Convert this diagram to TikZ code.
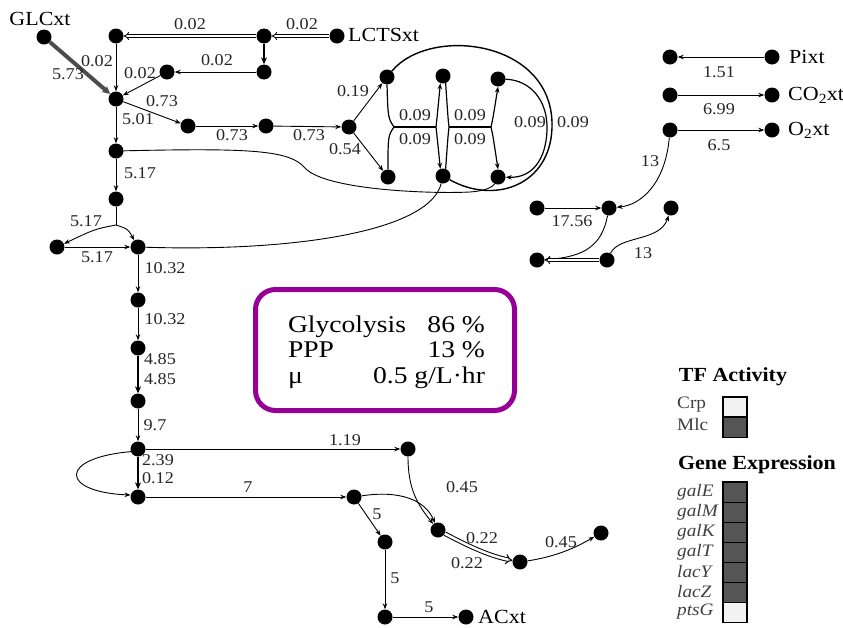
\documentclass[tikz,border=0pt]{standalone}
\usepackage{fontspec}
\setmainfont{Liberation Serif}[FakeStretch=1.1]
\newfontfamily\boxfont{Liberation Serif}[FakeStretch=1.15]
\usetikzlibrary{arrows.meta}
\definecolor{boxpurple}{RGB}{150,0,150}
\definecolor{celldark}{RGB}{85,85,85}
\definecolor{celllight}{RGB}{242,242,242}
\begin{document}
\begin{tikzpicture}[x=1pt,y=-1pt,
  dot/.style={circle,fill=black,inner sep=0pt,minimum size=15pt},
  flow/.style={line width=0.9pt,-{Stealth[length=6pt,width=4.5pt]}},
  plainline/.style={line width=0.9pt},
  heavy/.style={line width=2.6pt,-{Stealth[length=7pt,width=6pt]}},
  glcflow/.style={line width=4pt,draw=black!70,-{Stealth[length=8pt,width=8pt]}},
  dbl/.style={double,double distance=2pt,line width=0.8pt,-{Implies}},
  num/.style={font=\fontsize{16.5}{16.5}\selectfont,inner sep=1pt,text=black!85},
  mname/.style={font=\fontsize{20}{20}\selectfont,inner sep=1pt},
  leg/.style={font=\fontsize{17.5}{17.5}\selectfont,inner sep=0pt,text=black!75,anchor=west},
  gene/.style={font=\itshape\fontsize{17.5}{17.5}\selectfont,inner sep=0pt,text=black!75,anchor=west},
  cell/.style={draw=black,line width=1.3pt,minimum width=24pt,minimum height=20.1pt,inner sep=0pt},
  head/.style={font=\bfseries\fontsize{20}{20}\selectfont,inner sep=0pt}
]
\useasboundingbox (0,0) rectangle (843,627);

% ---------- nodes ----------
\node[dot] (GLC) at (44,37) {};
\node[dot] (A1) at (116,36) {};
\node[dot] (A2) at (264,36) {};
\node[dot] (LCTS) at (337,36) {};
\node[dot] (A3) at (264,72) {};
\node[dot] (B1) at (167,72) {};
\node[dot] (M) at (116,99) {};
\node[dot] (N1) at (188,126) {};
\node[dot] (N2) at (266,126) {};
\node[dot] (N3) at (349,127) {};
\node[dot] (P1) at (387,77) {};
\node[dot] (P2) at (443,76) {};
\node[dot] (P3) at (498,79) {};
\node[dot] (P4) at (388,177) {};
\node[dot] (P5) at (443,176) {};
\node[dot] (P6) at (498,177) {};
\node[dot] (G1) at (116,151) {};
\node[dot] (G2) at (116,199) {};
\node[dot] (G3) at (138,247) {};
\node[dot] (G4) at (57,247) {};
\node[dot] (G5) at (138,300) {};
\node[dot] (G6) at (138,348) {};
\node[dot] (G7) at (138,401) {};
\node[dot] (G8) at (138,449) {};
\node[dot] (G9) at (138,497) {};
\node[dot] (Q1) at (408,449) {};
\node[dot] (Q2) at (354,497) {};
\node[dot] (Q3) at (438,530) {};
\node[dot] (Q4) at (385,542) {};
\node[dot] (Q5) at (385,617) {};
\node[dot] (AC) at (466,617) {};
\node[dot] (Q6) at (520,562) {};
\node[dot] (Q7) at (601,533) {};
\node[dot] (R1) at (670,57) {};
\node[dot] (Pi) at (772,57) {};
\node[dot] (R2) at (670,95) {};
\node[dot] (CO2) at (772,95) {};
\node[dot] (R3) at (670,130) {};
\node[dot] (O2) at (772,130) {};
\node[dot] (S1) at (537,208) {};
\node[dot] (S2) at (609,208) {};
\node[dot] (S5) at (671,208) {};
\node[dot] (S3) at (537,260) {};
\node[dot] (S4) at (607,260) {};
\coordinate (J) at (116,225);
\coordinate (ja) at (394,127);
\coordinate (jb) at (436,127);
\coordinate (jc) at (449,127);
\coordinate (jd) at (491,127);

% ---------- names ----------
\node[mname] (tGLC) at (40,19) {GLCxt};
\node[mname,anchor=west] (tLCTS) at (347,35) {LCTSxt};
\node[mname,anchor=west] (tPi) at (788,57) {Pixt};
\node[mname,anchor=west] (tCO2) at (787,95) {CO\textsubscript{2}xt};
\node[mname,anchor=west] (tO2) at (787,130) {O\textsubscript{2}xt};
\node[mname,anchor=west] (tAC) at (477,617) {ACxt};

% ---------- top / lactose ----------
\draw[dbl] (LCTS) -- (A2);
\draw[dbl] (A2) -- (A1);
\draw[heavy] (A2) -- (A3);
\draw[flow] (A3) -- (B1);
\draw[flow] (A1) -- (M);
\draw[flow] (B1) -- (M);
\draw[glcflow] (GLC) -- (M);
\draw[flow] (M) -- (N1);
\draw[flow] (N1) -- (N2);
\draw[flow] (N2) -- (N3);
\draw[flow] (N3) -- (P1);
\draw[flow] (N3) -- (P4);

% ---------- PPP ----------
\draw[plainline,line width=1.2pt] (P1.south) .. controls (388,118) .. (ja);
\draw[plainline,line width=1.2pt] (P4.north) .. controls (388,136) .. (ja);
\draw[plainline,line width=1.2pt] (ja) -- (jb);
\draw[flow,line width=1.2pt] (jb) .. controls (437,118) .. (P2.-110);
\draw[flow,line width=1.2pt] (jb) .. controls (437,136) .. (P5.110);
\draw[plainline,line width=1.2pt] (P2.-70) .. controls (448,118) .. (jc);
\draw[plainline,line width=1.2pt] (P5.70) .. controls (448,136) .. (jc);
\draw[plainline,line width=1.2pt] (jc) -- (jd);
\draw[flow,line width=1.2pt] (jd) .. controls (493,118) .. (P3.south);
\draw[flow,line width=1.2pt] (jd) .. controls (493,136) .. (P6.north);
\draw[plainline,line width=1.4pt] (P1) .. controls (430,25) and (555,40) .. (552,128) .. controls (550,185) and (495,205) .. (P5);
\draw[flow,line width=1.2pt] (P3) .. controls (530,80) and (548,100) .. (547,130) .. controls (546,160) and (532,178) .. (P6);

% ---------- glycolysis ----------
\draw[flow] (M) -- (G1);
\draw[flow] (G1) -- (G2);
\draw[plainline] (G2) -- (J);
\draw[flow] (J) .. controls (95,229) .. (G4);
\draw[flow] (J) .. controls (128,229) .. (G3);
\draw[flow] (G4) -- (G3);
\draw[flow] (G3) -- (G5);
\draw[flow] (G5) -- (G6);
\draw[heavy] (G6) -- (G7);
\draw[flow] (G7) -- (G8);
\draw[heavy] (G8) -- (G9);
\draw[flow] (G8.200) .. controls (58,458) and (60,492) .. (G9.165);
\draw[plainline] (G1) .. controls (250,148) and (290,150) .. (305,168) .. controls (325,190) and (430,194) .. (470,192) .. controls (485,191) and (493,187) .. (P6);
\draw[plainline] (G3) .. controls (300,252) and (430,230) .. (P5);

% ---------- lower branch ----------
\draw[flow] (G8) -- (Q1);
\draw[flow] (G9) -- (Q2);
\draw[flow] (Q1) .. controls (408,490) and (418,505) .. (Q3);
\draw[flow] (Q2) .. controls (400,490) and (425,500) .. (Q3);
\draw[flow] (Q2) -- (Q4);
\draw[flow] (Q4) -- (Q5);
\draw[flow] (Q5) -- (AC);
\draw[dbl,line width=1pt,double distance=2.5pt] (Q3) .. controls (470,547) and (490,556) .. (Q6);
\draw[flow] (Q6) .. controls (560,556) and (580,545) .. (Q7);

% ---------- right block ----------
\draw[flow] (Pi) -- (R1);
\draw[flow] (R2) -- (CO2);
\draw[flow] (R3) -- (O2);
\draw[flow] (R3) .. controls (665,185) and (640,205) .. (S2);
\draw[flow] (S1) -- (S2);
\draw[flow] (S2) .. controls (602,245) and (585,257) .. (S3);
\draw[dbl] (S4) -- (S3);
\draw[flow] (S4) .. controls (620,235) and (660,242) .. (S5);

% ---------- flux labels ----------
\node[num] (l1) at (190,24) {0.02};
\node[num] (l2) at (302,24) {0.02};
\node[num] (l3) at (217,60) {0.02};
\node[num] (l4) at (97,61) {0.02};
\node[num] (l5) at (140,73) {0.02};
\node[num] (l6) at (68,74) {5.73};
\node[num] (l7) at (162,101) {0.73};
\node[num] (l8) at (138,119) {5.01};
\node[num] (l9) at (232,135) {0.73};
\node[num] (l10) at (309,135) {0.73};
\node[num] (l11) at (353,91) {0.19};
\node[num] (l12) at (345,149) {0.54};
\node[num] (l13) at (415,115) {0.09};
\node[num] (l14) at (415,139) {0.09};
\node[num] (l15) at (470,115) {0.09};
\node[num] (l16) at (470,139) {0.09};
\node[num] (l17) at (530,122) {0.09};
\node[num] (l18) at (573,122) {0.09};
\node[num] (l19) at (140,173) {5.17};
\node[num] (l20) at (86,221) {5.17};
\node[num] (l21) at (97,257) {5.17};
\node[num] (l22) at (165,268) {10.32};
\node[num] (l23) at (165,319) {10.32};
\node[num] (l24) at (160,359) {4.85};
\node[num] (l25) at (160,379) {4.85};
\node[num] (l26) at (155,425) {9.7};
\node[num] (l27) at (158,460) {2.39};
\node[num] (l28) at (158,478) {0.12};
\node[num] (l29) at (345,440) {1.19};
\node[num] (l30) at (248,487) {7};
\node[num] (l31) at (462,487) {0.45};
\node[num] (l32) at (377,514) {5};
\node[num] (l33) at (395,578) {5};
\node[num] (l34) at (429,607) {5};
\node[num] (l35) at (482,538) {0.22};
\node[num] (l36) at (467,563) {0.22};
\node[num] (l37) at (561,542) {0.45};
\node[num] (l38) at (719,72) {1.51};
\node[num] (l39) at (719,109) {6.99};
\node[num] (l40) at (719,145) {6.5};
\node[num] (l41) at (650,161) {13};
\node[num] (l42) at (572,221) {17.56};
\node[num] (l43) at (643,253) {13};

% ---------- summary box ----------
\node[draw=boxpurple,line width=5pt,rounded corners=20pt,minimum width=259pt,minimum height=121pt] (sum) at (385,350) {};
\node[font=\boxfont\fontsize{24}{25.5}\selectfont,align=left,inner sep=0pt] (sumtext) at (386.5,352) {%
\makebox[197pt]{Glycolysis\hfill 86 \%}\\
\makebox[197pt]{PPP\hfill 13 \%}\\
\makebox[197pt]{μ\hfill 0.5 g/L·hr}};

% ---------- legend ----------
\node[head] (tfh) at (733,377) {TF Activity};
\node[cell,fill=celllight] (crp) at (735,407) {};
\node[cell,fill=celldark] (mlc) at (735,427.5) {};
\node[leg] (tcrp) at (677,405) {Crp};
\node[leg] (tmlc) at (677,425) {Mlc};
\node[head] (geh) at (757,465) {Gene Expression};
\node[cell,fill=celldark] (g1) at (735,492.1) {};
\node[cell,fill=celldark] (g2) at (735,512.2) {};
\node[cell,fill=celldark] (g3) at (735,532.3) {};
\node[cell,fill=celldark] (g4) at (735,552.4) {};
\node[cell,fill=celldark] (g5) at (735,572.5) {};
\node[cell,fill=celldark] (g6) at (735,592.6) {};
\node[cell,fill=celllight] (g7) at (735,612.7) {};
\node[gene] (tg1) at (677,492) {galE};
\node[gene] (tg2) at (677,512) {galM};
\node[gene] (tg3) at (677,532) {galK};
\node[gene] (tg4) at (677,552) {galT};
\node[gene] (tg5) at (677,572) {lacY};
\node[gene] (tg6) at (677,592) {lacZ};
\node[gene] (tg7) at (677,612) {ptsG};
\end{tikzpicture}
\end{document}
